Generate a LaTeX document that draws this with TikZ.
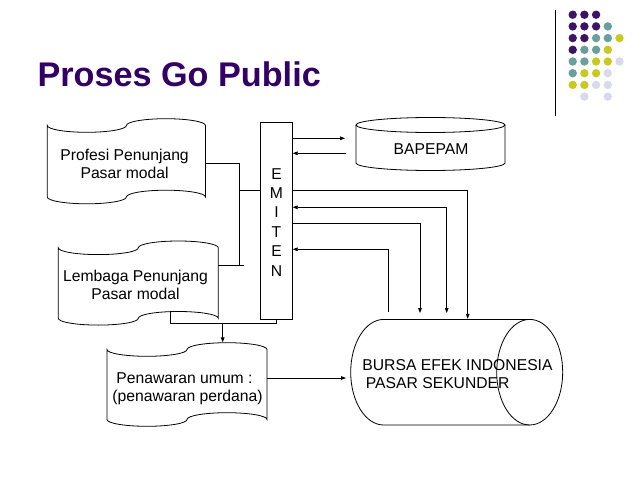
\documentclass[tikz,border=0pt]{standalone}
\usepackage{fontspec}
\setmainfont{Liberation Sans}
\usetikzlibrary{arrows.meta}
\definecolor{titlec}{HTML}{330066}
\definecolor{dotP}{HTML}{3D1465}
\definecolor{dotT}{HTML}{6B9E9E}
\definecolor{dotY}{HTML}{C9C921}
\definecolor{dotL}{HTML}{D9D9EE}
\def\nodot{N}
\newcommand\tapeshape[6]{% name, L, R, yEnd, amplitude, H
  \pgfmathsetmacro\tpL{#2}\pgfmathsetmacro\tpR{#3}%
  \pgfmathsetmacro\tpM{(#2+#3)/2}\pgfmathsetmacro\tprx{(#3-#2)/4}%
  \pgfmathsetmacro\tpB{#4+#6}%
  \draw[shapeline] (\tpL,#4)
    arc[start angle=180,end angle=360,x radius=\tprx pt,y radius=#5pt]
    arc[start angle=180,end angle=0,x radius=\tprx pt,y radius=#5pt]
    -- (\tpR,\tpB)
    arc[start angle=0,end angle=180,x radius=\tprx pt,y radius=#5pt]
    arc[start angle=0,end angle=-180,x radius=\tprx pt,y radius=#5pt]
    -- cycle;
  \coordinate (#1) at (\tpM,#4);
}
\begin{document}
\begin{tikzpicture}[x=1pt,y=-1pt,
  shapeline/.style={line width=0.8pt,draw=black},
  conn/.style={line width=0.8pt},
  arr/.style={conn,-{Triangle[length=5pt,width=3.6pt]}},
  arrboth/.style={conn,{Triangle[length=5pt,width=3.6pt]}-{Triangle[length=5pt,width=3.6pt]}},
  txt/.style={inner sep=0pt,font=\fontsize{15.7}{18.3}\selectfont},
  dotsty/.style={circle,inner sep=0pt,minimum size=8.4pt}]
\useasboundingbox (0,0) rectangle (638,479);
\fill[white] (0,0) rectangle (638,479);

% decoration dots
\foreach \r/\cols in {0/{P,P,P,N,N},1/{P,P,P,T,N},2/{P,P,T,T,Y},3/{P,T,T,Y,N},4/{T,T,Y,Y,L},5/{T,Y,Y,L,N},6/{Y,Y,L,L,N},7/{N,L,N,L,N}}{
  \foreach \c [count=\i from 0] in \cols {
    \ifx\c\nodot\else
      \node[dotsty,fill=dot\c] (d\r\i) at ({572.7+11.7*\i},{14.7+11.7*\r}) {};
    \fi
  }
}
\coordinate (vlt) at (555.3,10);
\coordinate (vlb) at (555.3,115.7);
\draw[line width=1pt] (vlt) -- (vlb);

% title
\node[anchor=base west,inner sep=0pt,text=titlec,font=\fontsize{34.2}{40}\selectfont\bfseries] (title) at (37.4,86.7) {Proses Go Public};

% tape shapes
\tapeshape{prof}{47.3}{205.5}{125.5}{6.8}{71.5}
\tapeshape{lemb}{58.3}{218.3}{247.8}{6.8}{70.5}
\tapeshape{pena}{107}{267}{349.5}{6.8}{70}

\node[txt,anchor=base] (prof1) at (124.6,160) {Profesi Penunjang};
\node[txt,anchor=base] (prof2) at (124.6,178.3) {Pasar modal};
\node[txt,anchor=base] (lemb1) at (135.5,281) {Lembaga Penunjang};
\node[txt,anchor=base] (lemb2) at (135.5,299.3) {Pasar modal};
\node[txt,anchor=base] (pena1) at (184.5,383) {Penawaran umum :};
\node[txt,anchor=base] (pena2) at (187.5,401.3) {(penawaran perdana)};

% EMITEN
\node[draw,line width=0.8pt,minimum width=31.6pt,minimum height=196.8pt,inner sep=0pt] (em) at (276.5,220.9) {};
\node[txt,anchor=base] (em1) at (276.5,179) {E};
\node[txt,anchor=base] (em2) at (276.5,198.4) {M};
\node[txt,anchor=base] (em3) at (276.5,217.8) {I};
\node[txt,anchor=base] (em4) at (276.5,237.2) {T};
\node[txt,anchor=base] (em5) at (276.5,256.6) {E};
\node[txt,anchor=base] (em6) at (276.5,276) {N};

% BAPEPAM cylinder
\draw[shapeline] (430.5,125) ellipse[x radius=74.5pt,y radius=7.5pt];
\draw[shapeline] (356,125) -- (356,163)
  arc[start angle=180,end angle=360,x radius=74.5pt,y radius=7.5pt] -- (505,125);
\node[txt,anchor=base] (bap) at (431,154.3) {BAPEPAM};

% BURSA cylinder
\draw[shapeline] (529.7,319.4) -- (383.7,319.4)
  arc[start angle=90,end angle=270,x radius=33pt,y radius=52.8pt] -- (529.7,425);
\draw[shapeline] (529.7,372.2) ellipse[x radius=33pt,y radius=52.8pt];
\node[txt,anchor=base west] (bur1) at (362.2,370.5) {BURSA EFEK INDONESIA};
\node[txt,anchor=base west] (bur2) at (365.7,388.8) {PASAR SEKUNDER};

% left bus
\coordinate (pr) at (205.5,163.3);
\coordinate (bx) at (239.3,163.3);
\coordinate (lr) at (218.3,265);
\coordinate (lx) at (244,265);
\coordinate (bj) at (239.3,190);
\draw[conn] (pr) -- (bx) -- (bx |- lr);
\draw[conn] (lr) -- (lx);
\draw[conn] (bj) -- (em.west |- bj);

% BAPEPAM arrows
\coordinate (bapA) at (345,138.3);
\coordinate (bapB) at (346,153.3);
\draw[arr] (em.east |- bapA) -- (bapA);
\draw[arr] (bapB) -- (em.east |- bapB);

% BURSA connectors
\coordinate (c1) at (467.7,190);
\coordinate (c2) at (446.7,207.3);
\coordinate (c3) at (420,223.3);
\coordinate (c4) at (388.3,249.3);
\coordinate (bt1) at (467.7,318.8);
\coordinate (bt2) at (446.7,313);
\coordinate (bt3) at (420,313);
\coordinate (bt4) at (388.3,312);
\draw[arr] (em.east |- c1) -- (c1) -- (bt1);
\draw[arrboth] (em.east |- c2) -- (c2) -- (bt2);
\draw[arr] (em.east |- c3) -- (c3) -- (bt3);
\draw[arr] (bt4) -- (c4) -- (em.east |- c4);

% bottom connectors
\coordinate (lb) at (170,311.7);
\coordinate (hb) at (170,323.3);
\coordinate (he) at (276.5,323.3);
\coordinate (ha) at (222.7,323.3);
\coordinate (pt) at (222.7,342.3);
\draw[conn] (lb) -- (hb) -- (he) -- (em.south);
\draw[arr] (ha) -- (pt);

% Penawaran -> BURSA
\coordinate (pwR) at (267,378);
\coordinate (bsL) at (346,378);
\draw[arr] (pwR) -- (bsL);
\end{tikzpicture}
\end{document}
